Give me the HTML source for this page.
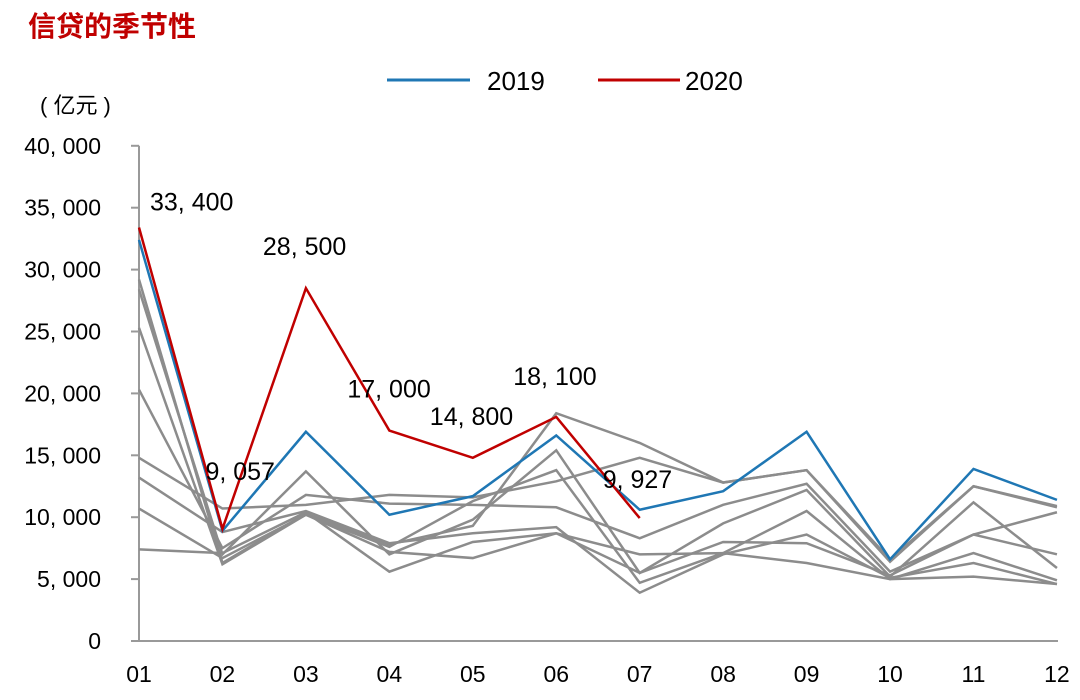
<!DOCTYPE html>
<html><head><meta charset="utf-8"><style>
body{margin:0;background:#fff;width:1080px;height:695px;overflow:hidden}
svg text{font-family:"Liberation Sans","Noto Sans CJK SC",sans-serif}
</style></head><body>
<svg id="chart" width="1080" height="695">
<text x="28" y="36" font-size="28" font-weight="bold" fill="#c00000" style="font-family:'Noto Sans CJK SC',sans-serif">信贷的季节性</text>
<text x="40" y="113" font-size="22" fill="#000">( 亿元 )</text>
<g>
<line x1="387" y1="80" x2="470" y2="80" stroke="#1f77b4" stroke-width="3"/>
<text x="487" y="90" font-size="26">2019</text>
<line x1="598" y1="80" x2="680" y2="80" stroke="#c00000" stroke-width="3"/>
<text x="685" y="90" font-size="26">2020</text>
</g>
<g id="axes"></g><g id="marks"></g><g id="labels"></g>
</svg>
<script>
const categories=["01","02","03","04","05","06","07","08","09","10","11","12"];
const yTicks=[0,5000,10000,15000,20000,25000,30000,35000,40000];
const yTickLabels=["0","5, 000","10, 000","15, 000","20, 000","25, 000","30, 000","35, 000","40, 000"];
const gray1=[29200,6300,10300,7800,9300,18400,16000,12800,13800,6400,12500,10900];
const gray2=[28400,7000,13700,7000,9800,15400,5500,9500,12200,5200,11200,5900];
const gray3=[25300,6200,10200,7600,11300,13800,4700,7100,10500,5000,7100,4900];
const gray4=[20300,7500,11800,11100,11000,10800,8300,11000,12700,5600,8600,7000];
const gray5=[14800,10700,11000,11800,11600,12900,14800,12800,13800,6600,12500,10800];
const gray6=[13200,8800,10500,7900,8700,9200,3900,7000,8600,5100,6300,4600];
const gray7=[10700,6700,10200,7200,6700,8700,7000,7100,6300,5000,5200,4600];
const gray8=[7400,7100,10400,5600,8000,8700,5500,8000,7900,5300,8600,10400];
const s2019=[32400,8900,16900,10200,11700,16600,10600,12100,16900,6600,13900,11400];
const s2020=[33400,9057,28500,17000,14800,18100,9927];
const labels2020=["33, 400","9, 057","28, 500","17, 000","14, 800","18, 100","9, 927"];
const NS="http://www.w3.org/2000/svg";
const X=i=>139+i*83.45, Y=v=>641-v*61.9/5000;
function mk(t,a,p){const e=document.createElementNS(NS,t);for(const k in a)e.setAttribute(k,a[k]);p.appendChild(e);return e;}
const ax=document.getElementById('axes'),mg=document.getElementById('marks'),lg=document.getElementById('labels');
const yl=mk('line',{x1:139,y1:Y(40000),x2:139,y2:641,stroke:'#999','stroke-width':2},ax);


const xl=mk('line',{x1:139,y1:641,x2:1058,y2:641,stroke:'#999','stroke-width':2},ax);


yTicks.forEach((v,i)=>{
 const t=mk('line',{x1:131,y1:Y(v),x2:139,y2:Y(v),stroke:'#999','stroke-width':2},ax);
 
 
 const tx=mk('text',{x:101,y:Y(v)+8,'font-size':23,'text-anchor':'end'},ax);tx.textContent=yTickLabels[i];
 
 
});
categories.forEach((c,i)=>{
 const tx=mk('text',{x:X(i),y:682,'font-size':23,'text-anchor':'middle'},ax);tx.textContent=c;
 
 
});
function line(d,col,w,name){
 const p=mk('polyline',{points:d.map((v,i)=>X(i)+','+Y(v)).join(' '),fill:'none',stroke:col,'stroke-width':w,'stroke-linejoin':'miter'},mg);
 
 
}
[gray1,gray2,gray3,gray4,gray5,gray6,gray7,gray8].forEach((g,k)=>line(g,'#8c8c8c',2.5,'history-line-'+(k+1)));
line(s2019,'#1f77b4',2.5,'line-2019');
line(s2020,'#c00000',2.5,'line-2020');
const off=[[11,-17],[-17,-49],[-43,-33],[-42,-33],[-43,-33],[-43,-32],[-37,-30]];
s2020.forEach((v,i)=>{
 const tx=mk('text',{x:X(i)+off[i][0],y:Y(v)+off[i][1],'font-size':25},lg);tx.textContent=labels2020[i];
 
 
});
</script>
</body></html>
